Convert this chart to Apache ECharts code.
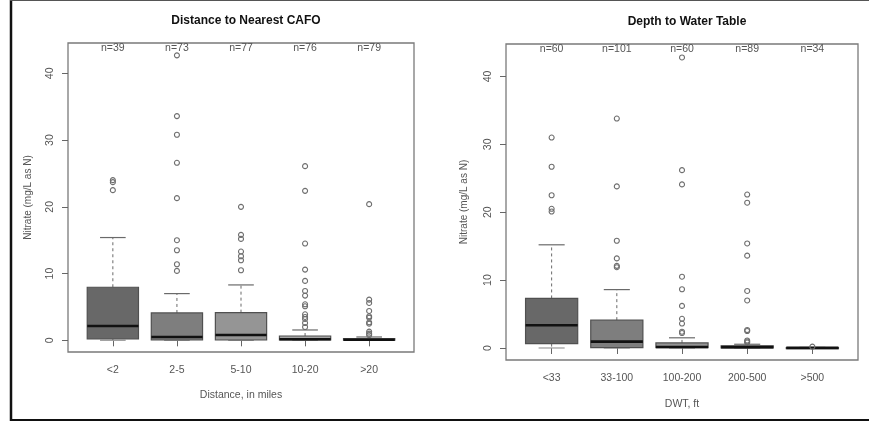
<!DOCTYPE html>
<html>
<head>
<meta charset="utf-8">
<script src="https://cdn.jsdelivr.net/npm/echarts@6/dist/echarts.min.js"></script>
<style>
html,body{margin:0;padding:0;background:#fff;}
#chart{width:869px;height:423px;}
</style>
</head>
<body>
<div id="chart"></div>
<script>
// ---- Data ----
const leftTitle = 'Distance to Nearest CAFO';
const leftCats = ['<2', '2-5', '5-10', '10-20', '>20'];
const leftN = ['n=39', 'n=73', 'n=77', 'n=76', 'n=79'];
// [lower whisker, Q1, median, Q3, upper whisker]
const leftStats = [
  [0, 0.2, 2.15, 7.95, 15.4],
  [0, 0.05, 0.5, 4.1, 7.0],
  [0, 0.05, 0.8, 4.15, 8.3],
  [0, 0.05, 0.15, 0.65, 1.55],
  [0, 0.02, 0.08, 0.25, 0.5]
];
const leftOutliers = [
  [22.5, 23.7, 24.0],
  [42.7, 33.6, 30.8, 26.6, 21.3, 15.0, 13.5, 11.4, 10.4],
  [20.0, 15.8, 15.2, 13.3, 12.6, 12.0, 10.5],
  [26.1, 22.4, 14.5, 10.6, 8.9, 7.4, 6.7, 5.4, 5.1, 3.9, 3.5, 3.2, 2.6, 2.0],
  [20.4, 6.1, 5.6, 4.4, 3.6, 3.4, 2.7, 2.5, 1.3, 1.0, 0.8]
];
const leftXName = 'Distance, in miles';

const rightTitle = 'Depth to Water Table';
const rightCats = ['<33', '33-100', '100-200', '200-500', '>500'];
const rightN = ['n=60', 'n=101', 'n=60', 'n=89', 'n=34'];
const rightStats = [
  [0, 0.65, 3.35, 7.3, 15.2],
  [0, 0.05, 0.93, 4.1, 8.6],
  [0, 0.05, 0.15, 0.75, 1.5],
  [0, 0.03, 0.12, 0.3, 0.55],
  [0, 0, 0.02, 0.05, 0.08]
];
const rightOutliers = [
  [31.0, 26.7, 22.5, 20.5, 20.1],
  [33.8, 23.8, 15.8, 13.2, 12.1, 11.9],
  [42.8, 26.2, 24.1, 10.5, 8.65, 6.2, 4.3, 3.6, 2.4, 2.2],
  [22.6, 21.4, 15.4, 13.6, 8.4, 7.0, 2.65, 2.5, 1.1, 0.95, 0.8],
  [0.2]
];
const rightXName = 'DWT, ft';

const yName = 'Nitrate (mg/L as N)';
const yTicks = [0, 10, 20, 30, 40];
const boxColors = ['#686868', '#7e7e7e', '#959595', '#a6a6a6', '#b4b4b4'];

// ---- Build ----
const FONT = 'Liberation Sans, Arial, sans-serif';
const chart = echarts.init(document.getElementById('chart'), null, {renderer: 'canvas'});

function boxSeries(idx, stats) {
  return {
    type: 'custom',
    xAxisIndex: idx, yAxisIndex: idx,
    data: stats.map((s, i) => [i + 1].concat(s)),
    encode: {x: 0, y: [1, 2, 3, 4, 5]},
    renderItem: function (params, api) {
      const x = api.value(0);
      const lo = api.value(1), q1 = api.value(2), med = api.value(3), q3 = api.value(4), hi = api.value(5);
      const halfBox = api.size([0.4, 0])[0];
      const halfCap = api.size([0.2, 0])[0];
      const pLo = api.coord([x, lo]), pQ1 = api.coord([x, q1]), pMed = api.coord([x, med]);
      const pQ3 = api.coord([x, q3]), pHi = api.coord([x, hi]);
      const cx = pMed[0];
      const fill = boxColors[params.dataIndex];
      return {
        type: 'group',
        children: [
          {type: 'line', shape: {x1: cx, y1: pQ3[1], x2: cx, y2: pHi[1]},
            style: {stroke: '#6a6a6a', lineWidth: 1, lineDash: [3, 3]}},
          {type: 'line', shape: {x1: cx, y1: pQ1[1], x2: cx, y2: pLo[1]},
            style: {stroke: '#6a6a6a', lineWidth: 1, lineDash: [3, 3]}},
          {type: 'line', shape: {x1: cx - halfCap, y1: pHi[1], x2: cx + halfCap, y2: pHi[1]},
            style: {stroke: '#6a6a6a', lineWidth: 1.2}},
          {type: 'line', shape: {x1: cx - halfCap, y1: pLo[1], x2: cx + halfCap, y2: pLo[1]},
            style: {stroke: '#9a9a9a', lineWidth: 1.2}},
          {type: 'rect', shape: {x: cx - halfBox, y: pQ3[1], width: halfBox * 2, height: Math.max(pQ1[1] - pQ3[1], 1)},
            style: {fill: fill, stroke: '#505050', lineWidth: 1.2}},
          {type: 'line', shape: {x1: cx - halfBox, y1: pMed[1], x2: cx + halfBox, y2: pMed[1]},
            style: {stroke: '#111', lineWidth: 2.6}}
        ]
      };
    },
    z: 3
  };
}

function outlierSeries(idx, outs) {
  const data = [];
  outs.forEach((arr, i) => arr.forEach(v => data.push([i + 1, v])));
  return {
    type: 'scatter', xAxisIndex: idx, yAxisIndex: idx,
    data: data, symbol: 'circle', symbolSize: 5,
    itemStyle: {color: 'rgba(255,255,255,0)', borderColor: '#6e6e6e', borderWidth: 1.1, opacity: 1},
    z: 4
  };
}

function nSeries(idx, labels, yMax) {
  return {
    type: 'custom', xAxisIndex: idx, yAxisIndex: idx,
    data: labels.map((t, i) => [i + 1, yMax]),
    renderItem: function (params, api) {
      const p = api.coord([api.value(0), api.value(1)]);
      return {type: 'text', x: p[0], y: p[1] + 5,
        style: {text: labels[params.dataIndex], fill: '#555', font: '10.5px ' + FONT,
          align: 'center', verticalAlign: 'middle'}};
    },
    z: 5, silent: true
  };
}

function xAxis(idx, cats, name, gap) {
  return {
    type: 'value', gridIndex: idx, min: 0.3, max: 5.7,
    name: name, nameLocation: 'middle', nameGap: gap,
    nameTextStyle: {color: '#555', fontSize: 10.5, fontFamily: FONT},
    axisLine: {show: false},
    splitLine: {show: false},
    axisTick: {show: true, length: 6, customValues: [1, 2, 3, 4, 5], lineStyle: {color: '#666'}},
    axisLabel: {customValues: [1, 2, 3, 4, 5], margin: 13, color: '#555', fontSize: 10.5, fontFamily: FONT,
      formatter: v => cats[Math.round(v) - 1] || ''}
  };
}

function yAxis(idx, min, max, gap) {
  return {
    type: 'value', gridIndex: idx, min: min, max: max,
    name: yName, nameLocation: 'middle', nameGap: gap,
    nameTextStyle: {color: '#555', fontSize: 10, fontFamily: FONT},
    axisLine: {show: false},
    splitLine: {show: false},
    axisTick: {show: true, length: 6, customValues: yTicks, lineStyle: {color: '#666'}},
    axisLabel: {customValues: yTicks, rotate: 90, margin: 12.5, color: '#555', fontSize: 10.5, fontFamily: FONT}
  };
}

const option = {
  backgroundColor: '#fff',
  animation: false,
  title: [
    {text: leftTitle, left: 241, top: 10, textAlign: 'center',
      textStyle: {fontSize: 12, fontWeight: 'bold', color: '#111', fontFamily: FONT}},
    {text: rightTitle, left: 682, top: 11, textAlign: 'center',
      textStyle: {fontSize: 12, fontWeight: 'bold', color: '#111', fontFamily: FONT}}
  ],
  grid: [
    {left: 68, top: 43, width: 346, height: 309, show: true, borderColor: '#7a7a7a', borderWidth: 1.3, backgroundColor: 'transparent'},
    {left: 506, top: 44, width: 352, height: 316, show: true, borderColor: '#7a7a7a', borderWidth: 1.3, backgroundColor: 'transparent'}
  ],
  xAxis: [xAxis(0, leftCats, leftXName, 38), xAxis(1, rightCats, rightXName, 39)],
  yAxis: [yAxis(0, -1.75, 44.55, 35), yAxis(1, -1.77, 44.78, 37)],
  series: [
    boxSeries(0, leftStats), outlierSeries(0, leftOutliers), nSeries(0, leftN, 44.55),
    boxSeries(1, rightStats), outlierSeries(1, rightOutliers), nSeries(1, rightN, 44.78)
  ],
  graphic: [
    {type: 'line', shape: {x1: 11, y1: 0, x2: 11, y2: 421}, style: {stroke: '#111', lineWidth: 2.5}, silent: true},
    {type: 'line', shape: {x1: 10, y1: 0.5, x2: 869, y2: 0.5}, style: {stroke: '#555', lineWidth: 1.2}, silent: true},
    {type: 'line', shape: {x1: 10, y1: 420, x2: 869, y2: 420}, style: {stroke: '#111', lineWidth: 2.2}, silent: true}
  ]
};
chart.setOption(option);
</script>
</body>
</html>
